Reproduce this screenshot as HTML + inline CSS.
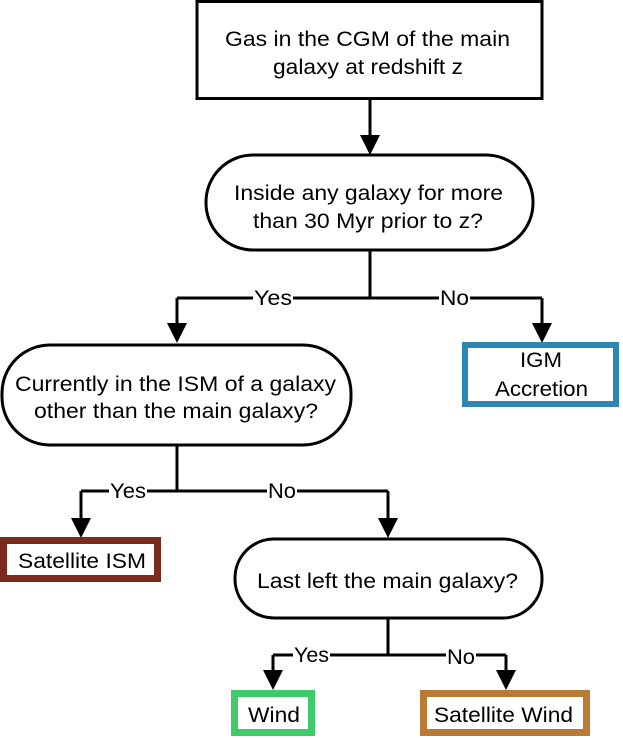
<!DOCTYPE html>
<html><head><meta charset="utf-8"><style>html,body{margin:0;padding:0;background:#fff}svg{display:block}</style></head>
<body>
<svg width="623" height="738" viewBox="0 0 623 738" xmlns="http://www.w3.org/2000/svg" font-family="Liberation Sans, Arial, sans-serif" font-size="21" fill="#000">
<g fill="none" stroke="#000" stroke-width="3">
<rect x="197" y="1.5" width="345" height="97"/>
<rect x="206" y="155" width="327" height="95" rx="47"/>
<rect x="2" y="345" width="349" height="100" rx="48"/>
<rect x="235" y="539" width="307" height="79" rx="39"/>
<path d="M370 99 V140"/>
<path d="M370 250 V298 M177 298 H542 M177 298 V328 M542 298 V328"/>
<path d="M177 445 V491 M81 491 H388 M81 491 V522 M388 491 V522"/>
<path d="M388 618 V655 M273 655 H506 M273 655 V674 M506 655 V674"/>
</g>
<g fill="#000">
<polygon points="360,135 380,135 370,155"/>
<polygon points="167,323 187,323 177,343"/>
<polygon points="532,323 552,323 542,343"/>
<polygon points="71,518 91,518 81,538"/>
<polygon points="378,518 398,518 388,538"/>
<polygon points="263,670 283,670 273,690"/>
<polygon points="496,670 516,670 506,690"/>
</g>
<rect x="465" y="345" width="151" height="59" fill="#fff" stroke="#2e86b5" stroke-width="6"/>
<rect x="3.5" y="540.5" width="154" height="38" fill="#fff" stroke="#7b2a1c" stroke-width="7"/>
<rect x="234.5" y="693.5" width="77" height="39" fill="#fff" stroke="#3ecc6a" stroke-width="7"/>
<rect x="423.5" y="693.5" width="163" height="39" fill="#fff" stroke="#b87a35" stroke-width="7"/>
<g fill="#fff">
<rect x="253" y="288" width="40" height="20"/>
<rect x="439" y="288" width="31" height="20"/>
<rect x="109" y="481" width="38" height="20"/>
<rect x="267" y="481" width="30" height="20"/>
<rect x="293" y="645" width="37" height="20"/>
<rect x="446" y="645" width="30" height="20"/>
</g>
<g>
<text x="225" y="46" textLength="285" lengthAdjust="spacingAndGlyphs">Gas in the CGM of the main</text>
<text x="273" y="74" textLength="190" lengthAdjust="spacingAndGlyphs">galaxy at redshift z</text>
<text x="234" y="200" textLength="269" lengthAdjust="spacingAndGlyphs">Inside any galaxy for more</text>
<text x="253" y="228" textLength="230" lengthAdjust="spacingAndGlyphs">than 30 Myr prior to z?</text>
<text x="15" y="391" textLength="321" lengthAdjust="spacingAndGlyphs">Currently in the ISM of a galaxy</text>
<text x="34" y="418" textLength="284" lengthAdjust="spacingAndGlyphs">other than the main galaxy?</text>
<text x="520" y="367" textLength="42" lengthAdjust="spacingAndGlyphs">IGM</text>
<text x="495" y="396" textLength="93" lengthAdjust="spacingAndGlyphs">Accretion</text>
<text x="18" y="568" textLength="128" lengthAdjust="spacingAndGlyphs">Satellite ISM</text>
<text x="257" y="588" textLength="261" lengthAdjust="spacingAndGlyphs">Last left the main galaxy?</text>
<text x="248" y="722" textLength="52" lengthAdjust="spacingAndGlyphs">Wind</text>
<text x="434" y="722" textLength="139" lengthAdjust="spacingAndGlyphs">Satellite Wind</text>
<text x="254" y="305" textLength="38" lengthAdjust="spacingAndGlyphs">Yes</text>
<text x="440" y="305" textLength="29" lengthAdjust="spacingAndGlyphs">No</text>
<text x="110" y="498" textLength="36" lengthAdjust="spacingAndGlyphs">Yes</text>
<text x="268" y="498" textLength="28" lengthAdjust="spacingAndGlyphs">No</text>
<text x="294" y="662" textLength="35" lengthAdjust="spacingAndGlyphs">Yes</text>
<text x="447" y="664" textLength="28" lengthAdjust="spacingAndGlyphs">No</text>
</g>
</svg>
</body></html>
